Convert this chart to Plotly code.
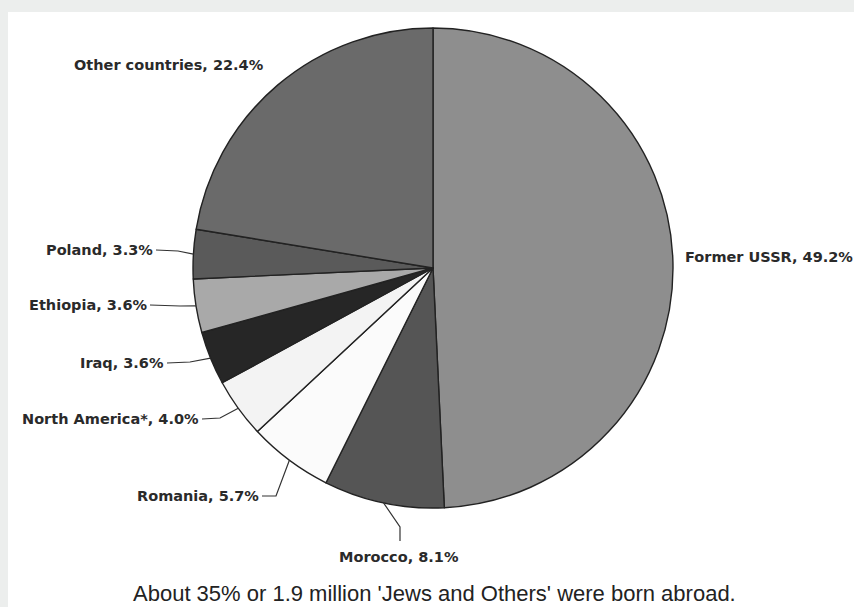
import math
import plotly.graph_objects as go

# ---- data ----
countries = ["Former USSR", "Morocco", "Romania", "North America*", "Iraq",
             "Ethiopia", "Poland", "Other countries"]
shares = [49.2, 8.1, 5.7, 4.0, 3.6, 3.6, 3.3, 22.4]
slice_colors = ["#8e8e8e", "#555555", "#fbfbfb", "#f3f3f3", "#262626",
                "#a9a9a9", "#5a5a5a", "#6a6a6a"]
caption = "About 35% or 1.9 million 'Jews and Others' were born abroad."

# ---- layout geometry (pixels) ----
W, H = 854, 607
CX, CY, R = 433, 268, 240

def px(x):
    return x / W

def py(y):
    return 1 - y / H

# label placement: (x, y, xanchor, leader start, elbow points)
label_layout = {
    "Former USSR": (683, 257, "left", None, []),
    "Morocco": (399, 557, "center", (400, 541), [(400, 527)]),
    "Romania": (261, 496, "right", (262, 496), [(276, 496)]),
    "North America*": (201, 419, "right", (202, 419), [(220, 418)]),
    "Iraq": (166, 363, "right", (167, 363), [(190, 362)]),
    "Ethiopia": (149, 305, "right", (150, 305), [(180, 306)]),
    "Poland": (155, 250, "right", (156, 250), [(178, 251)]),
    "Other countries": (72, 65, "left", None, []),
}

total = sum(shares)
fig = go.Figure()
fig.add_trace(go.Pie(
    labels=countries, values=shares, sort=False, direction="clockwise",
    rotation=0, textinfo="none", hoverinfo="label+percent", showlegend=False,
    marker=dict(colors=slice_colors, line=dict(color="#222222", width=1.4)),
    domain=dict(x=[px(CX - R), px(CX + R)], y=[py(CY + R), py(CY - R)]),
))

annotations = []
shapes = [dict(type="rect", xref="paper", yref="paper", x0=px(8), x1=1,
               y0=0, y1=py(12), fillcolor="white", line=dict(width=0),
               layer="below")]

cum = 0.0
for name, val in zip(countries, shares):
    mid = (cum + val / 2) / total * 2 * math.pi
    cum += val
    ex = CX + R * math.sin(mid)
    ey = CY - R * math.cos(mid)
    lx, ly, anchor, start, elbows = label_layout[name]
    annotations.append(dict(
        text=f"<b>{name}, {val:.1f}%</b>", x=px(lx), y=py(ly), xref="paper",
        yref="paper", xanchor=anchor, yanchor="middle", showarrow=False,
        font=dict(family="DejaVu Sans", size=14.5, color="#2a2a2a"),
    ))
    if start is not None:
        pts = [start] + elbows + [(ex, ey)]
        path = "M " + " L ".join(f"{px(x):.5f},{py(y):.5f}" for x, y in pts)
        shapes.append(dict(type="path", path=path, xref="paper", yref="paper",
                           line=dict(color="#333333", width=1.2)))

annotations.append(dict(
    text=caption, x=px(434), y=py(593), xref="paper", yref="paper",
    xanchor="center", yanchor="middle", showarrow=False,
    font=dict(family="Liberation Sans, Arial", size=22, color="#222222"),
))

fig.update_layout(
    width=W, height=H, margin=dict(l=0, r=0, t=0, b=0),
    paper_bgcolor="#eceeed", annotations=annotations, shapes=shapes,
)
fig.write_html("out.html")
